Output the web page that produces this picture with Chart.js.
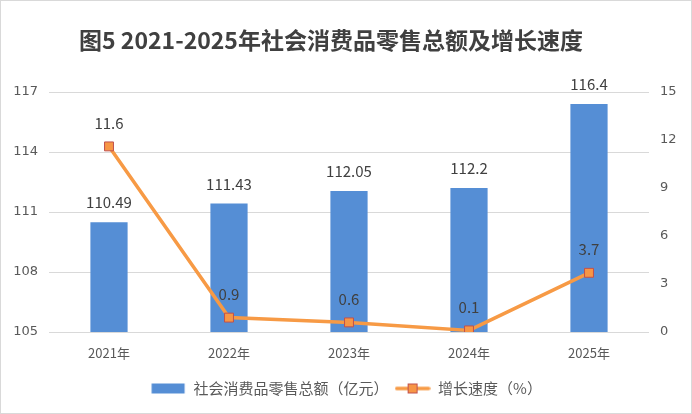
<!DOCTYPE html>
<html>
<head>
<meta charset="utf-8">
<style>
html,body{margin:0;padding:0;background:#fff;}
#wrap{width:692px;height:414px;position:relative;}
</style>
<script src="https://cdn.jsdelivr.net/npm/chart.js@4.4.0/dist/chart.umd.min.js"></script>
</head>
<body>
<div id="wrap"><canvas id="c" width="692" height="414"></canvas></div>
<script>
const titleText = '图5 2021-2025年社会消费品零售总额及增长速度';
const years = ['2021年','2022年','2023年','2024年','2025年'];
const retailLabels = ['110.49','111.43','112.05','112.2','116.4'];
const retail = [110.49, 111.43, 112.05, 112.2, 116.4];
const growthLabels = ['11.6','0.9','0.6','0.1','3.7'];
const growth = [11.6, 0.9, 0.6, 0.1, 3.7];
const seriesNames = ['社会消费品零售总额（亿元）','增长速度（%）'];

const BAR = '#558ED5';
const LINE = '#F79A45';
const MK = '#F79646';
const MKB = '#C0504D';
const CJK = '"Noto Sans CJK SC", "Noto Sans", sans-serif';

function mkIcon(type){
  const cv = document.createElement('canvas');
  cv.width = 36; cv.height = 12;
  const x = cv.getContext('2d');
  if(type==='bar'){
    x.fillStyle = BAR; x.fillRect(1.5,1,33,10);
  } else {
    x.strokeStyle = LINE; x.lineWidth = 3.5; x.lineCap='round';
    x.beginPath(); x.moveTo(2,6); x.lineTo(34,6); x.stroke();
    x.fillStyle = MK; x.fillRect(13.5,1.5,9,9);
    x.strokeStyle = MKB; x.lineWidth = 1; x.strokeRect(13.5,1.5,9,9);
  }
  return cv;
}
const icons = [mkIcon('bar'), mkIcon('line')];

const deco = {
  id:'deco',
  beforeDraw(chart){
    const ctx = chart.ctx;
    ctx.save();
    ctx.strokeStyle = '#D9D9D9'; ctx.lineWidth = 1;
    ctx.strokeRect(0.5,0.5,chart.width-1,chart.height-1);
    ctx.restore();
  },
  afterDraw(chart){
    const ctx = chart.ctx;
    ctx.save();
    ctx.fillStyle = '#404040';
    ctx.font = 'bold 23px ' + CJK;
    ctx.textAlign = 'center'; ctx.textBaseline = 'middle';
    ctx.fillText(titleText, 331, 40);
    ctx.font = '15px ' + CJK;
    ctx.textBaseline = 'bottom';
    const m0 = chart.getDatasetMeta(0);
    m0.data.forEach((el,i)=>{ ctx.fillText(retailLabels[i], el.x, el.y - 12); });
    const m1 = chart.getDatasetMeta(1);
    m1.data.forEach((el,i)=>{ ctx.fillText(growthLabels[i], el.x, el.y - 16); });
    ctx.restore();
  }
};

new Chart(document.getElementById('c'), {
  data:{
    labels: years,
    datasets:[
      {type:'bar', label:seriesNames[0], data:retail, backgroundColor:BAR, yAxisID:'y',
       categoryPercentage:0.62, barPercentage:0.5, order:2},
      {type:'line', label:seriesNames[1], data:growth, yAxisID:'y1', borderColor:LINE, borderWidth:3.5,
       pointStyle:'rect', pointRadius:6.3, pointBackgroundColor:MK, pointBorderColor:MKB, pointBorderWidth:1,
       tension:0, order:1}
    ]
  },
  options:{
    responsive:false, animation:false,
    layout:{padding:{top:92, left:0, right:0, bottom:8}},
    plugins:{
      title:{display:false},
      tooltip:{enabled:false},
      legend:{
        position:'bottom',
        labels:{
          usePointStyle:true, pointStyleWidth:36, boxHeight:12,
          font:{size:15, family:CJK}, color:'#595959', padding:6,
          generateLabels(chart){
            return chart.data.datasets.map((d,i)=>({
              text:d.label, pointStyle:icons[i], fillStyle:'transparent', strokeStyle:'transparent',
              lineWidth:0, hidden:false, datasetIndex:i, fontColor:'#595959'
            }));
          }
        }
      }
    },
    scales:{
      x:{
        afterFit(s){ s.height = 43; },
        grid:{display:false}, border:{display:false},
        ticks:{color:'#595959', font:{size:13, family:CJK}, padding:5}
      },
      y:{
        position:'left', min:105, max:117,
        afterFit(s){ s.width = 49; },
        grid:{color:'#D9D9D9', drawTicks:false}, border:{display:false},
        ticks:{stepSize:3, color:'#595959', font:{size:13, family:'"DejaVu Sans", sans-serif'}, padding:11}
      },
      y1:{
        position:'right', min:0, max:15,
        afterFit(s){ s.width = 43; },
        grid:{display:false, drawTicks:false}, border:{display:false},
        ticks:{stepSize:3, color:'#595959', font:{size:13, family:'"DejaVu Sans", sans-serif'}, padding:11}
      }
    }
  },
  plugins:[deco]
});
</script>
</body>
</html>
